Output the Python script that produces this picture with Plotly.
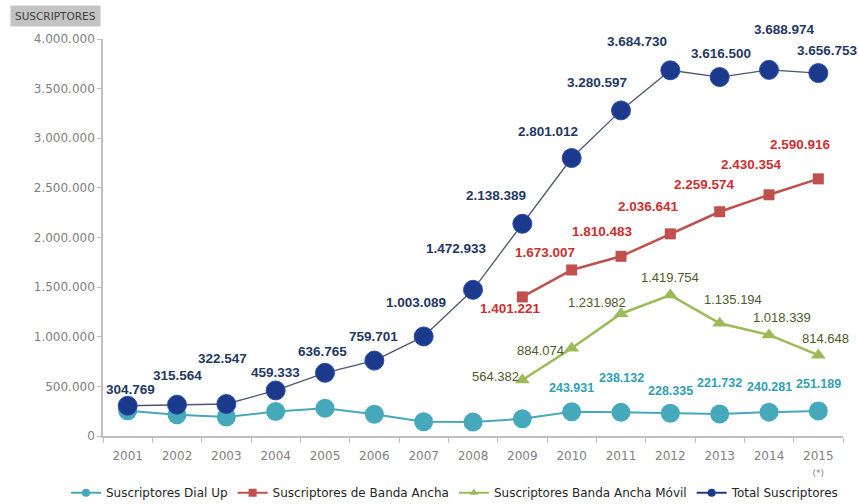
import plotly.graph_objects as go

years = ["2001", "2002", "2003", "2004", "2005", "2006", "2007", "2008",
         "2009", "2010", "2011", "2012", "2013", "2014", "2015"]
year_ticktext = years[:-1] + ["2015<br><span style='font-size:9px'>(*)</span>"]

dial_up = [255000, 213000, 192000, 247000, 280000, 220000, 143000, 140000,
           172786, 243931, 238132, 228335, 221732, 240281, 251189]
dial_up_labeled = [False] * 9 + [True] * 6

banda_ancha_years = years[8:]
banda_ancha = [1401221, 1673007, 1810483, 2036641, 2259574, 2430354, 2590916]

movil_years = years[8:]
movil = [564382, 884074, 1231982, 1419754, 1135194, 1018339, 814648]

total = [304769, 315564, 322547, 459333, 636765, 759701, 1003089, 1472933,
         2138389, 2801012, 3280597, 3684730, 3616500, 3688974, 3656753]

y_ticks = [0, 500000, 1000000, 1500000, 2000000, 2500000, 3000000, 3500000, 4000000]

# label offsets (pixels, dx right, dy up) relative to the point
total_dx = [3, 0, -4, 0, -3, -1, -8, -17, -26, -24, -24, -33, 1, 15, 9]
total_dy = [16, 29, 45, 18, 21, 24, 34, 41, 28, 27, 28, 29, 24, 40, 23]
ba_dx = [-12, -27, -19, -22, -15, -18, -18]
ba_dy = [-12, 17, 25, 27, 27, 30, 34]
mv_dx = [-27, -31, -24, 0, 13, 13, 7]
mv_dy = [3, -2, 11, 18, 24, 17, 17]
du_dx = [0, 0, 0, 0, 0, 0]
du_dy = [24, 34, 22, 31, 25, 27]

C_DIAL = "#45a9bb"
C_BA = "#c0504d"
C_MV = "#9bbb59"
C_TOT = "#1b3a8c"


def fmt(v):
    return f"{v:,}".replace(",", ".")


def idx(yr):
    return years.index(yr)


fig = go.Figure()

fig.add_trace(go.Scatter(x=years, y=dial_up, mode="lines+markers",
                         line=dict(color=C_DIAL, width=2),
                         marker=dict(symbol="circle", size=19, color=C_DIAL),
                         showlegend=False, cliponaxis=False))
fig.add_trace(go.Scatter(x=banda_ancha_years, y=banda_ancha, mode="lines+markers",
                         line=dict(color=C_BA, width=2.5),
                         marker=dict(symbol="square", size=11, color=C_BA),
                         showlegend=False, cliponaxis=False))
fig.add_trace(go.Scatter(x=movil_years, y=movil, mode="lines+markers",
                         line=dict(color=C_MV, width=2.5),
                         marker=dict(symbol="triangle-up", size=13, color=C_MV),
                         showlegend=False, cliponaxis=False))
fig.add_trace(go.Scatter(x=years, y=total, mode="lines+markers",
                         line=dict(color="#4a5570", width=1.3),
                         marker=dict(symbol="circle", size=19, color=C_TOT,
                                     line=dict(color="#2a4cae", width=1)),
                         showlegend=False, cliponaxis=False))

# legend entries
for name, col, sym in [("Suscriptores Dial Up", C_DIAL, "circle"),
                       ("Suscriptores de Banda Ancha", C_BA, "square"),
                       ("Suscriptores Banda Ancha Móvil", C_MV, "triangle-up"),
                       ("Total Suscriptores", C_TOT, "circle")]:
    fig.add_trace(go.Scatter(x=[None], y=[None], mode="lines+markers", name=name,
                             line=dict(color=col, width=2),
                             marker=dict(symbol=sym, size=8, color=col)))

annotations = []
for i, (yr, v) in enumerate(zip(years, total)):
    annotations.append(dict(x=idx(yr), y=v, text=fmt(v), showarrow=False,
                            xshift=total_dx[i], yshift=total_dy[i],
                            font=dict(family="Liberation Sans", size=13.5, color="#1f3864", weight="bold")))
for i, (yr, v) in enumerate(zip(banda_ancha_years, banda_ancha)):
    annotations.append(dict(x=idx(yr), y=v, text=fmt(v), showarrow=False,
                            xshift=ba_dx[i], yshift=ba_dy[i],
                            font=dict(family="Liberation Sans", size=13.5, color="#cc2f2f", weight="bold")))
for i, (yr, v) in enumerate(zip(movil_years, movil)):
    annotations.append(dict(x=idx(yr), y=v, text=fmt(v), showarrow=False,
                            xshift=mv_dx[i], yshift=mv_dy[i],
                            font=dict(family="Liberation Sans", size=13, color="#4f5a2c")))
j = 0
for yr, v, lab in zip(years, dial_up, dial_up_labeled):
    if lab:
        annotations.append(dict(x=idx(yr), y=v, text=fmt(v), showarrow=False,
                                xshift=du_dx[j], yshift=du_dy[j],
                                font=dict(family="Liberation Sans", size=12.5, color="#2f9fb3", weight="bold")))
        j += 1

annotations.append(dict(xref="paper", yref="paper", x=-0.1257, y=1.0856,
                        xanchor="left", yanchor="top", text="SUSCRIPTORES", showarrow=False,
                        bgcolor="#c3c3c3", borderpad=4,
                        font=dict(family="DejaVu Sans", size=10.5, color="#404040")))

fig.update_layout(
    width=859, height=504,
    margin=dict(l=103, r=16, t=39, b=68, autoexpand=False),
    paper_bgcolor="white", plot_bgcolor="white",
    separators=",.",
    annotations=annotations,
    legend=dict(orientation="h", x=-0.05, y=-0.143, xanchor="left", yanchor="middle",
                font=dict(family="DejaVu Sans", size=12, color="#262626"),
                itemwidth=30, tracegroupgap=0),
    xaxis=dict(type="category", range=[-0.5, 14.5], tickvals=years, ticktext=year_ticktext,
               showgrid=False, showline=True, linecolor="#bfbfbf", linewidth=1.5,
               ticks="outside", tickson="boundaries", ticklen=5, tickcolor="#bfbfbf",
               ticklabelstandoff=8,
               tickfont=dict(family="DejaVu Sans", size=12, color="#808080")),
    yaxis=dict(range=[0, 4000000], tickvals=y_ticks, tickformat=",d",
               showgrid=False, showline=True, linecolor="#bfbfbf", linewidth=1.5,
               ticks="outside", ticklen=4, tickcolor="#bfbfbf", zeroline=False,
               tickfont=dict(family="DejaVu Sans", size=12, color="#808080")),
)

fig.write_html("out.html", config={"displayModeBar": False},
               post_script="document.body.style.margin='0px';document.body.style.overflow='hidden';")
